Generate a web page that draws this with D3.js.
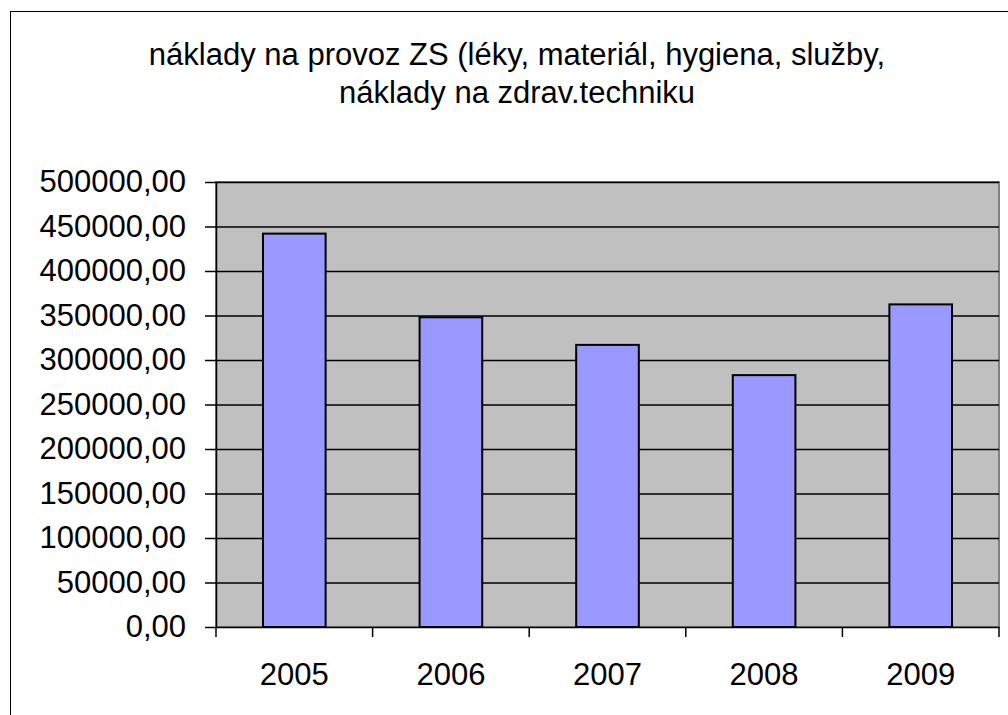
<!DOCTYPE html>
<html>
<head>
<meta charset="utf-8">
<script src="https://cdn.jsdelivr.net/npm/d3@7"></script>
<style>
  body { margin: 0; background: #fff; }
  text { font-family: "Liberation Sans", Arial, sans-serif; fill: #000; }
</style>
</head>
<body>
<div id="chart"></div>
<script>
// Data
const years = ["2005", "2006", "2007", "2008", "2009"];
const costs = [442000, 348000, 317000, 283000, 362500];
const yTicks = [0, 50000, 100000, 150000, 200000, 250000, 300000, 350000, 400000, 450000, 500000];
const titleLines = ["náklady na provoz ZS (léky, materiál, hygiena, služby,", "náklady na zdrav.techniku"];

const W = 1008, H = 715;
const plot = {left: 216, top: 182, right: 999, bottom: 627};

const svg = d3.select("#chart")
  .append("svg")
  .attr("width", W)
  .attr("height", H);

// chart frame
svg.append("rect")
  .attr("x", 10.5).attr("y", 11.5)
  .attr("width", W).attr("height", H)
  .attr("fill", "#fff")
  .attr("stroke", "#000")
  .attr("stroke-width", 1);

// title
svg.append("g").selectAll("text")
  .data(titleLines)
  .enter()
  .append("text")
  .attr("x", 517)
  .attr("y", (d, i) => 65 + i * 38)
  .attr("text-anchor", "middle")
  .style("font-size", "31px")
  .text(d => d);

const x = d3.scaleBand()
  .domain(years)
  .range([plot.left, plot.right]);

const y = d3.scaleLinear()
  .domain([0, 500000])
  .range([plot.bottom, plot.top]);

// plot area
svg.append("rect")
  .attr("x", plot.left).attr("y", plot.top)
  .attr("width", plot.right - plot.left)
  .attr("height", plot.bottom - plot.top)
  .attr("fill", "#c0c0c0")
  .attr("stroke", "#808080")
  .attr("stroke-width", 2);

// grid lines
svg.append("g")
  .attr("transform", `translate(${plot.left},0)`)
  .call(d3.axisLeft(y)
    .tickValues(yTicks.slice(1))
    .tickSize(-(plot.right - plot.left))
    .tickFormat(""))
  .call(g => g.select(".domain").remove())
  .selectAll("line")
  .attr("stroke", "#000")
  .attr("stroke-width", 1.5);

// bars
const barW = x.bandwidth() / 2.5;
svg.append("g")
  .selectAll("rect")
  .data(years)
  .enter()
  .append("rect")
  .attr("x", (d) => x(d) + (x.bandwidth() - barW) / 2)
  .attr("y", (d, i) => y(costs[i]))
  .attr("width", barW)
  .attr("height", (d, i) => y(0) - y(costs[i]))
  .attr("fill", "#9999ff")
  .attr("stroke", "#000")
  .attr("stroke-width", 2);

// y axis
const fmt = v => d3.format(".2f")(v).replace(".", ",");
const yAxis = svg.append("g")
  .attr("transform", `translate(${plot.left},0)`)
  .call(d3.axisLeft(y)
    .tickValues(yTicks)
    .tickSize(11)
    .tickPadding(19)
    .tickSizeOuter(0)
    .tickFormat(fmt));
yAxis.select(".domain").attr("stroke", "#000").attr("stroke-width", 1.5);
yAxis.selectAll("line").attr("stroke", "#000").attr("stroke-width", 1.5);
yAxis.selectAll("text").style("font-size", "31px").attr("font-family", "Liberation Sans, Arial, sans-serif");

// x axis
const xAxis = svg.append("g")
  .attr("transform", `translate(0,${plot.bottom})`)
  .call(d3.axisBottom(x).tickSize(0).tickPadding(36));
xAxis.select(".domain").attr("stroke", "#000").attr("stroke-width", 1.5);
xAxis.selectAll("text").style("font-size", "31px").attr("font-family", "Liberation Sans, Arial, sans-serif");

// tick marks at category boundaries
const bounds = years.map(d => x(d)).concat([plot.right]);
xAxis.append("g")
  .selectAll("line")
  .data(bounds)
  .enter()
  .append("line")
  .attr("x1", d => d).attr("x2", d => d)
  .attr("y1", 0).attr("y2", 10)
  .attr("stroke", "#000")
  .attr("stroke-width", 1.5);
</script>
</body>
</html>
